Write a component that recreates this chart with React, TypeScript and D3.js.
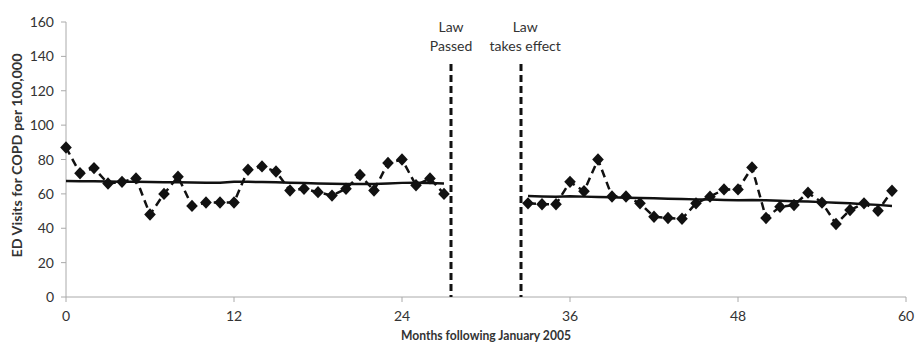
import React from "react";
import * as d3 from "d3";

const monthsPre = d3.range(0, 28);
const valuesPre = [87, 72, 75, 66, 67, 69, 48, 60, 70, 53, 55, 55, 55, 74, 76, 73, 62, 63, 61, 59, 63, 71, 62, 78, 80, 65, 69, 60];
const trendPre = [67.5, 67.4, 67.3, 67.2, 67.1, 67.0, 66.9, 66.8, 66.7, 66.6, 66.5, 66.5, 67.0, 67.0, 66.9, 66.7, 66.5, 66.3, 66.1, 65.9, 65.8, 65.7, 65.7, 66.0, 66.4, 66.5, 66.3, 66.0];
const monthsPost = d3.range(33, 60);
const valuesPost = [54.5, 54, 54, 67, 61.5, 80, 58.5, 58.5, 54.5, 46.7, 46, 45.5, 54.5, 58.4, 62.6, 62.6, 75.4, 46, 52.5, 53.5, 60.7, 54.9, 42.5, 50.6, 54.5, 50.2, 61.8];
const trendPost = [58.7, 58.5, 58.3, 58.6, 58.4, 58.2, 58.0, 57.8, 57.6, 57.4, 57.2, 57.0, 56.8, 56.7, 56.5, 56.3, 56.5, 56.3, 56.0, 55.7, 55.5, 55.2, 54.9, 54.6, 54.0, 53.6, 53.0];
const xTicks = [0, 12, 24, 36, 48, 60];
const yTicks = [0, 20, 40, 60, 80, 100, 120, 140, 160];
const lawLines = [
  { month: 27.5, label: 27.5, lines: ["Law", "Passed"] },
  { month: 32.5, label: 32.8, lines: ["Law", "takes effect"] },
];

export default function App() {
  const W = 917, H = 345;
  const x = d3.scaleLinear().domain([0, 60]).range([66, 906]);
  const y = d3.scaleLinear().domain([0, 160]).range([297, 22]);
  const font = "Lato, 'Open Sans', sans-serif";
  const line = d3.line<[number, number]>().x(d => x(d[0])).y(d => y(d[1]));
  const pre = monthsPre.map((m, i) => [m, valuesPre[i]] as [number, number]);
  const post = monthsPost.map((m, i) => [m, valuesPost[i]] as [number, number]);
  const tPre = monthsPre.map((m, i) => [m, trendPre[i]] as [number, number]);
  const tPost = monthsPost.map((m, i) => [m, trendPost[i]] as [number, number]);
  const diamond = "M0,-6.2L5.8,0L0,6.2L-5.8,0Z";
  const axisColor = "#aaa";
  return (
    <svg width={W} height={H} style={{ position: "absolute", left: 0, top: 0 }} fontFamily={font}>
      <line x1={x(0)} x2={x(0)} y1={y(0)} y2={y(160)} stroke={axisColor} />
      <line x1={x(0)} x2={x(60)} y1={y(0)} y2={y(0)} stroke={axisColor} />
      {yTicks.map(t => (
        <g key={"y" + t}>
          <line x1={x(0) - 5} x2={x(0)} y1={y(t)} y2={y(t)} stroke={axisColor} />
          <text x={x(0) - 12} y={y(t)} dy="0.36em" textAnchor="end" fontSize={14} fill="#333">{t}</text>
        </g>
      ))}
      {xTicks.map(t => (
        <g key={"x" + t}>
          <line x1={x(t)} x2={x(t)} y1={y(0)} y2={y(0) + 5} stroke={axisColor} />
          <text x={x(t)} y={y(0) + 24} textAnchor="middle" fontSize={14} fill="#333">{t}</text>
        </g>
      ))}
      <text transform={`translate(22,${(y(0) + y(160)) / 2 - 4}) rotate(-90)`} textAnchor="middle" fontSize={13} fontWeight="bold" fill="#333" textLength={204} lengthAdjust="spacingAndGlyphs">ED Visits for COPD per 100,000</text>
      <text x={(x(0) + x(60)) / 2} y={340} textAnchor="middle" fontSize={13.5} fontWeight="bold" fill="#333" textLength={170} lengthAdjust="spacingAndGlyphs">Months following January 2005</text>
      {lawLines.map(l => (
        <g key={l.month}>
          <line x1={x(l.month)} x2={x(l.month)} y1={64} y2={y(0)} stroke="#111" strokeWidth={3} strokeDasharray="7,4" />
          {l.lines.map((s, i) => (
            <text key={i} x={x(l.label)} y={32 + i * 19} textAnchor="middle" fontSize={14} fill="#333">{s}</text>
          ))}
        </g>
      ))}
      <path d={line(pre) || ""} fill="none" stroke="#111" strokeWidth={2.5} strokeDasharray="8,5" />
      <path d={line(post) || ""} fill="none" stroke="#111" strokeWidth={2.5} strokeDasharray="8,5" />
      <path d={line(tPre) || ""} fill="none" stroke="#111" strokeWidth={2.5} />
      <path d={line(tPost) || ""} fill="none" stroke="#111" strokeWidth={2.5} />
      {[...pre, ...post].map((d, i) => (
        <path key={i} d={diamond} transform={`translate(${x(d[0])},${y(d[1])})`} fill="#111" />
      ))}
    </svg>
  );
}
